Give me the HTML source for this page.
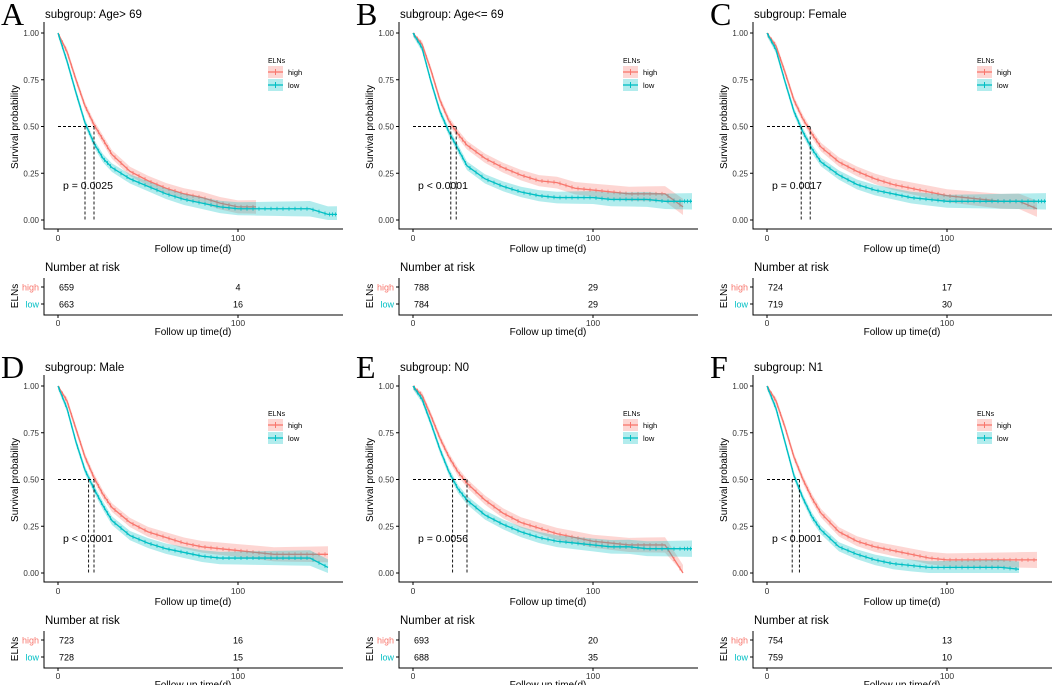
<!DOCTYPE html>
<html><head><meta charset="utf-8">
<style>
body{margin:0;background:#fff;width:1052px;height:685px;overflow:hidden}
svg{font-family:"Liberation Sans",sans-serif}
</style></head>
<body>
<svg id="fig" width="1052" height="685"></svg>
<script>
const times=[0,5,10,15,20,25,30,40,50,60,70,80,90,100,110,120,130,140,150,155];
const panelLetters=["A","B","C","D","E","F"];
const panelTitles=["subgroup: Age> 69","subgroup: Age<= 69","subgroup: Female","subgroup: Male","subgroup: N0","subgroup: N1"];
const pTexts=["p = 0.0025","p < 0.0001","p = 0.0017","p < 0.0001","p = 0.0056","p < 0.0001"];
const highSurv=[
[1,0.90,0.75,0.61,0.51,0.43,0.35,0.26,0.21,0.17,0.14,0.12,0.09,0.07,0.07],
[1,0.94,0.80,0.64,0.53,0.46,0.40,0.33,0.28,0.24,0.21,0.20,0.17,0.16,0.15,0.14,0.14,0.14,0.07],
[1,0.93,0.79,0.64,0.54,0.46,0.39,0.31,0.26,0.22,0.19,0.17,0.15,0.13,0.12,0.11,0.10,0.10,0.06],
[1,0.92,0.77,0.62,0.51,0.42,0.35,0.27,0.22,0.19,0.16,0.14,0.13,0.12,0.11,0.10,0.10,0.10,0.10],
[1,0.95,0.84,0.72,0.62,0.54,0.48,0.39,0.32,0.27,0.24,0.21,0.19,0.17,0.16,0.15,0.15,0.15,0.0],
[1,0.92,0.78,0.62,0.50,0.40,0.32,0.22,0.17,0.14,0.12,0.10,0.08,0.07,0.07,0.07,0.07,0.07,0.07]];
const lowSurv=[
[1,0.85,0.68,0.52,0.41,0.33,0.28,0.22,0.18,0.14,0.11,0.09,0.07,0.06,0.06,0.06,0.06,0.06,0.03,0.03],
[1,0.92,0.74,0.58,0.47,0.38,0.29,0.22,0.18,0.15,0.13,0.12,0.12,0.12,0.11,0.11,0.11,0.10,0.10,0.10],
[1,0.91,0.74,0.58,0.47,0.38,0.31,0.24,0.19,0.16,0.14,0.12,0.11,0.10,0.10,0.10,0.10,0.10,0.10,0.10],
[1,0.88,0.70,0.55,0.45,0.36,0.28,0.20,0.16,0.13,0.11,0.09,0.08,0.08,0.08,0.08,0.08,0.08,0.03],
[1,0.93,0.80,0.66,0.54,0.45,0.39,0.31,0.26,0.22,0.19,0.17,0.16,0.15,0.14,0.14,0.13,0.13,0.13,0.13],
[1,0.88,0.70,0.52,0.40,0.30,0.23,0.14,0.10,0.07,0.05,0.04,0.03,0.03,0.03,0.03,0.03,0.02]];
const highMedian=[20,24,24,20,30,18];
const lowMedian=[15,21,19,17,22,14];
const riskHigh0=[659,788,724,723,693,754];
const riskHigh100=[4,29,17,16,20,13];
const riskLow0=[663,784,719,728,688,759];
const riskLow100=[16,29,30,15,35,10];
const yTicks=[0,0.25,0.5,0.75,1];
const yTickLabels=["0.00","0.25","0.50","0.75","1.00"];
const xTicks=[0,100];

const NS="http://www.w3.org/2000/svg";
const svg=document.getElementById("fig");
const HC="#F8766D",LC="#00BFC4";
function mk(tag,attrs,parent,text){const e=document.createElementNS(NS,tag);for(const k in attrs)e.setAttribute(k,attrs[k]);if(text!=null)e.textContent=text;(parent||svg).appendChild(e);return e;}

for(let p=0;p<6;p++){
  const ox=[0,355,709][p%3], oy=p<3?0:353;
  const g=mk("g",{transform:`translate(${ox},${oy})`});
  
  
  const X=t=>58+t*1.8, Y=s=>220-s*187;
  let e=mk("text",{x:1,y:25,"font-family":"Liberation Serif,serif","font-size":32},g,panelLetters[p]);
  
  e=mk("text",{x:45,y:18,"font-size":11.5},g,panelTitles[p]);
  
  e=mk("path",{d:"M44,22V229H343",stroke:"#000","stroke-width":1,fill:"none"},g);
  
  yTicks.forEach((v,i)=>{
    mk("line",{x1:41,x2:44,y1:Y(v),y2:Y(v),stroke:"#000"},g);
    const t=mk("text",{x:39,y:Y(v)+3,"font-size":8,"text-anchor":"end",fill:"#333"},g,yTickLabels[i]);
    
  });
  xTicks.forEach(v=>{
    mk("line",{x1:X(v),x2:X(v),y1:229,y2:232,stroke:"#000"},g);
    const t=mk("text",{x:X(v),y:241,"font-size":8.5,"text-anchor":"middle",fill:"#333"},g,String(v));
    
  });
  e=mk("text",{x:193,y:252,"font-size":10,"text-anchor":"middle"},g,"Follow up time(d)");
  
  e=mk("text",{transform:"translate(18,127) rotate(-90)","font-size":10,"text-anchor":"middle"},g,"Survival probability");
  
  [[highSurv[p],HC,"high"],[lowSurv[p],LC,"low"]].forEach(([s,c,nm])=>{
    let d="",up="",lo=[];
    const n=s.length;
    for(let i=0;i<n;i++){
      const t0=times[i];
      const w=0.018+0.025*t0/150;
      d+=(i?"L":"M")+X(t0)+","+Y(s[i]);
      up+=(i?"L":"M")+X(t0)+","+Y(Math.min(1,s[i]+w));
      lo.unshift("L"+X(t0)+","+Y(Math.max(0,s[i]-w)));
    }
    const band=mk("path",{d:up+lo.join("")+"Z",fill:c,opacity:0.3,stroke:"none"},g);
    
    const ln=mk("path",{d:d,fill:"none",stroke:c,"stroke-width":1.3},g);
    
    for(let i=0;i<n-1;i++){
      for(let k=0;k<3;k++){const f=(k+0.5)/3;const tt=times[i]+(times[i+1]-times[i])*f;const ss=s[i]+(s[i+1]-s[i])*f;
        mk("line",{x1:X(tt),x2:X(tt),y1:Y(ss)-2,y2:Y(ss)+2,stroke:c,"stroke-width":0.8},g);}
    }
  });
  const mh=highMedian[p], ml=lowMedian[p], mx=Math.max(mh,ml);
  e=mk("path",{d:`M${X(0)},${Y(0.5)}H${X(mx)}M${X(mh)},${Y(0.5)}V${Y(0)}M${X(ml)},${Y(0.5)}V${Y(0)}`,stroke:"#000","stroke-dasharray":"3,2",fill:"none","stroke-width":0.9},g);
  
  e=mk("text",{x:63,y:189,"font-size":10.5},g,pTexts[p]);
  
  e=mk("text",{x:268,y:63,"font-size":7},g,"ELNs");
  
  [[HC,"high",72],[LC,"low",85]].forEach(([c,nm,y])=>{
    mk("rect",{x:268,y:y-6,width:15,height:12,fill:c,opacity:0.3},g);
    mk("line",{x1:268,x2:283,y1:y,y2:y,stroke:c,"stroke-width":1.3},g);
    mk("line",{x1:275.5,x2:275.5,y1:y-3,y2:y+3,stroke:c},g);
    const t=mk("text",{x:288,y:y+3,"font-size":7.5},g,nm);
    
  });
  e=mk("text",{x:45,y:271,"font-size":11.5},g,"Number at risk");
  
  mk("path",{d:"M44,278V315H343",stroke:"#000",fill:"none"},g);
  [[HC,"high",287,riskHigh0[p],riskHigh100[p]],[LC,"low",304,riskLow0[p],riskLow100[p]]].forEach(([c,nm,y,a,b])=>{
    mk("line",{x1:41,x2:44,y1:y,y2:y,stroke:"#000"},g);
    let t=mk("text",{x:39,y:y+3.5,"font-size":9,"text-anchor":"end",fill:c},g,nm);
    
    t=mk("text",{x:X(0)+1,y:y+3.5,"font-size":9},g,String(a));
    
    t=mk("text",{x:X(100),y:y+3.5,"font-size":9,"text-anchor":"middle"},g,String(b));
    
  });
  e=mk("text",{transform:"translate(18,296) rotate(-90)","font-size":10,"text-anchor":"middle"},g,"ELNs");
  
  xTicks.forEach(v=>{
    mk("line",{x1:X(v),x2:X(v),y1:315,y2:318,stroke:"#000"},g);
    mk("text",{x:X(v),y:326,"font-size":8.5,"text-anchor":"middle",fill:"#333"},g,String(v));
  });
  e=mk("text",{x:193,y:335,"font-size":10,"text-anchor":"middle"},g,"Follow up time(d)");
  
}
</script>
</body></html>
